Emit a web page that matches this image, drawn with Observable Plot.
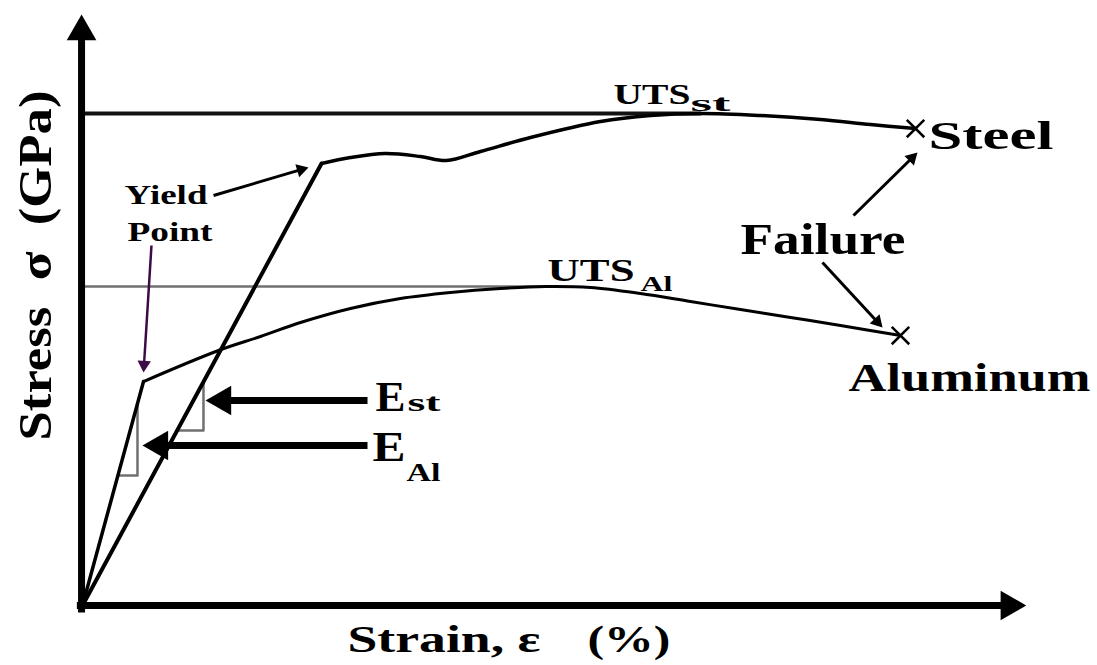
<!DOCTYPE html>
<html><head><meta charset="utf-8">
<script src="https://cdn.jsdelivr.net/npm/d3@7"></script>
<script src="https://cdn.jsdelivr.net/npm/@observablehq/plot@0.6"></script>
<style>body{margin:0;background:#fff}#chart{width:1097px;height:665px}</style>
</head><body><div id="chart"></div>
<script>
// ---- scales (strain %, stress GPa; schematic units) ----
const xDomain = [0, 10], xRange = [82, 1022];
const yDomain = [0, 1], yRange = [605, 25];

// ---- data ----
const steelElastic = [[0, 0], [2.543, 0.7621]];
const steelPlastic = [[2.543, 0.7621], [2.851, 0.7724], [3.223, 0.7793], [3.596, 0.7741], [3.872, 0.7672],
  [4.234, 0.7828], [4.766, 0.8069], [5.511, 0.8345], [6.043, 0.8448], [6.574, 0.8483], [7.213, 0.8448],
  [7.851, 0.8379], [8.383, 0.8293], [8.862, 0.8224]];
const alElastic = [[0, 0], [0.649, 0.3862]];
const alPlastic = [[0.649, 0.3862], [1.447, 0.4397], [1.894, 0.4638], [2.319, 0.4879], [2.851, 0.5121],
  [3.383, 0.5293], [3.915, 0.5397], [4.447, 0.5466], [4.926, 0.5500], [5.404, 0.5483], [5.936, 0.5379],
  [6.468, 0.5241], [7.000, 0.5103], [7.532, 0.4966], [8.064, 0.4828], [8.702, 0.4655]];
const utsSteel = [[0, 0.8483], [6.574, 0.8483]];
const utsAl = [[0, 0.5500], [4.926, 0.5500]];
const failurePoints = [[8.862, 0.8224], [8.702, 0.4655]];
const slopeTriangleAl = [[0.3765, 0.2241], [0.585, 0.2241], [0.585, 0.3482]];
const slopeTriangleSt = [[1.0068, 0.3017], [1.287, 0.3017], [1.287, 0.3857]];

// annotation arrows (from -> to)
const modulusArrows = [{from: [3.032, 0.3534], to: [1.309, 0.3534]}, {from: [3.032, 0.2759], to: [0.638, 0.2759]}];
const blackArrows = [{from: [1.394, 0.7069], to: [2.404, 0.7552]}, {from: [8.202, 0.6724], to: [8.883, 0.7810]},
  {from: [7.872, 0.5914], to: [8.511, 0.4793]}];
const purpleArrows = [{from: [0.734, 0.6207], to: [0.649, 0.4017]}];
const axisArrows = [{from: [-0.01, -0.012], to: [-0.01, 1.019]}, {from: [-0.06, 0], to: [10.04, 0]}];

// labels
const labelText = ["Yield", "Point", "UTS", "st", "Steel", "Failure", "UTS", "Al", "Aluminum", "E", "st", "E", "Al", "Strain, ε", "(%)"];
const labelX = [0.447, 0.479, 5.649, 6.468, 9.0, 7.0, 4.947, 5.936, 8.149, 3.117, 3.457, 3.085, 3.447, 2.819, 5.372];
const labelY = [0.6931, 0.6276, 0.8638, 0.8534, 0.7879, 0.6052, 0.5603, 0.5414, 0.3690, 0.3345, 0.3345, 0.25, 0.2155, -0.0810, -0.0810];
const labelSize = [28, 28, 30, 24, 40, 44, 32, 22, 40, 42, 26, 42, 26, 38, 38];
const labelWidth = [83, 85, 77, 40, 125, 165, 87, 32, 242, 30, 33, 33, 34, 193, 83];
const yTitle = "Stress  σ  (GPa)";
const yTitlePos = [-0.33, 0.5862];
const yTitleWidth = 350;

// ---- helpers ----
const SX = (xRange[1] - xRange[0]) / (xDomain[1] - xDomain[0]);
const SY = (yRange[0] - yRange[1]) / (yDomain[1] - yDomain[0]);
function head(a, r) {
  const dxp = (a.to[0] - a.from[0]) * SX, dyp = -(a.to[1] - a.from[1]) * SY;
  const L = Math.hypot(dxp, dyp), ux = dxp / L, uy = dyp / L, back = 1.555 * r;
  return {x: a.to[0] - ux * back / SX, y: a.to[1] + uy * back / SY,
          rot: Math.atan2(ux, -uy) * 180 / Math.PI, x1: a.from[0], y1: a.from[1]};
}
function arrowMarks(arrows, r, width, color) {
  const h = arrows.map(a => head(a, r));
  return [
    Plot.link(h, {x1: "x1", y1: "y1", x2: "x", y2: "y", stroke: color, strokeWidth: width}),
    Plot.dot(h, {x: "x", y: "y", r, rotate: "rot", symbol: "triangle", fill: color, stroke: "none"})
  ];
}
const P = () => ({x: d => d[0], y: d => d[1]});
const labels = labelText.map((t, i) => ({t, x: labelX[i], y: labelY[i], s: labelSize[i]}));
const font = "Liberation Serif, Times New Roman, serif";

const chart = Plot.plot({
  width: 1097, height: 665,
  marginTop: 0, marginRight: 0, marginBottom: 0, marginLeft: 0,
  x: {domain: xDomain, range: xRange, axis: null},
  y: {domain: yDomain, range: yRange, axis: null},
  style: {background: "#fff"},
  marks: [
    Plot.line(utsAl, {...P(), stroke: "#707070", strokeWidth: 2.5}),
    Plot.line(utsSteel, {...P(), stroke: "#111", strokeWidth: 4}),
    Plot.line(slopeTriangleAl, {...P(), stroke: "#707070", strokeWidth: 2.5}),
    Plot.line(slopeTriangleSt, {...P(), stroke: "#707070", strokeWidth: 2.5}),
    Plot.line(steelElastic, {...P(), stroke: "#000", strokeWidth: 4}),
    Plot.line(steelPlastic, {...P(), stroke: "#000", strokeWidth: 3.5, curve: "catmull-rom"}),
    Plot.line(alElastic, {...P(), stroke: "#000", strokeWidth: 3.5}),
    Plot.line(alPlastic, {...P(), stroke: "#000", strokeWidth: 3, curve: "catmull-rom"}),
    ...arrowMarks(axisArrows, 11, 7, "#000"),
    ...arrowMarks(modulusArrows, 11, 7, "#000"),
    ...arrowMarks(blackArrows, 5, 3, "#000"),
    ...arrowMarks(purpleArrows, 5, 2.5, "#3d0b47"),
    Plot.dot(failurePoints, {...P(), symbol: "times", r: 8, stroke: "#000", strokeWidth: 2.5}),
    Plot.text(labels, {x: "x", y: "y", text: "t", fontSize: "s", textAnchor: "start", lineAnchor: "bottom",
      fontFamily: font, fontWeight: "bold", fill: "#000"}),
    Plot.text([yTitle], {x: () => yTitlePos[0], y: () => yTitlePos[1], text: d => d, rotate: -90, fontSize: 46,
      textAnchor: "middle", lineAnchor: "bottom", fontFamily: font, fontWeight: "bold", fill: "#000"})
  ]
});
document.getElementById("chart").appendChild(chart);
const texts = chart.querySelectorAll('g[aria-label="text"] text');
texts.forEach((el, i) => {
  const w = i < labelWidth.length ? labelWidth[i] : yTitleWidth;
  el.setAttribute("textLength", w);
  el.setAttribute("lengthAdjust", "spacingAndGlyphs");
});
</script>
</body></html>
